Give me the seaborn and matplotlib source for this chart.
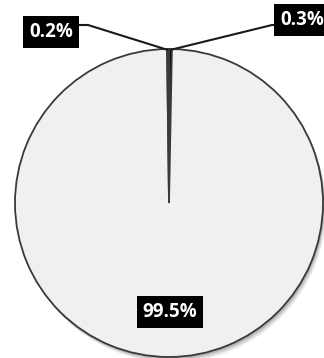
import matplotlib
matplotlib.use("Agg")
import matplotlib.pyplot as plt
import seaborn as sns

sns.set_theme(style="white")
plt.rcParams["font.family"] = ["Open Sans", "DejaVu Sans"]

# Shares, drawn clockwise from 12 o'clock
labels = ["0.3%", "99.5%", "0.2%"]
values = [0.3, 99.5, 0.2]
colors = ["#000000", "#f0f0f0", "#000000"]

W, H = 324, 358
CX, CY, R = 169, 203, 154


def px(x, y):
    """Pixel position -> data coordinates of the unit-radius pie."""
    return (x - CX) / R, (CY - y) / R


fig = plt.figure(figsize=(W / 100, H / 100), dpi=100)
ax = fig.add_axes([0, 0, 1, 1])

# soft shadow under the pie
for off, a in [(0.035, 0.08), (0.025, 0.10), (0.015, 0.14)]:
    ax.add_patch(plt.Circle((off * 0.6, -off), 1.0, color="black", alpha=a, lw=0, zorder=0))

wedges, _ = ax.pie(
    values,
    colors=colors,
    startangle=90,
    counterclock=False,
    radius=1.0,
    wedgeprops=dict(edgecolor="#3a3a3a", linewidth=1.3),
)
for w in wedges:
    w.set_zorder(2)

box = dict(boxstyle="square,pad=0.3", fc="black", ec="none")
txt = dict(color="white", fontsize=13.5, fontweight="bold", ha="center", va="center", zorder=5)

# leader lines from the tip of the thin slices
for pts in ([(77, 25), (88, 25), (168, 50)], [(283, 25), (272, 25), (170, 50)]):
    xs, ys = zip(*[px(*p) for p in pts])
    ax.plot(xs, ys, color="#1a1a1a", lw=1.5, zorder=4, solid_capstyle="butt")

ax.text(*px(302, 20), labels[0], bbox=box, **txt)
ax.text(*px(51, 32), labels[2], bbox=box, **txt)
ax.text(*px(170, 312), labels[1], bbox=box, **txt)

ax.set_xlim(-CX / R, (W - CX) / R)
ax.set_ylim(-(H - CY) / R, CY / R)
ax.set_aspect("auto")
ax.axis("off")

fig.savefig("out.png", dpi=100, facecolor="white")
